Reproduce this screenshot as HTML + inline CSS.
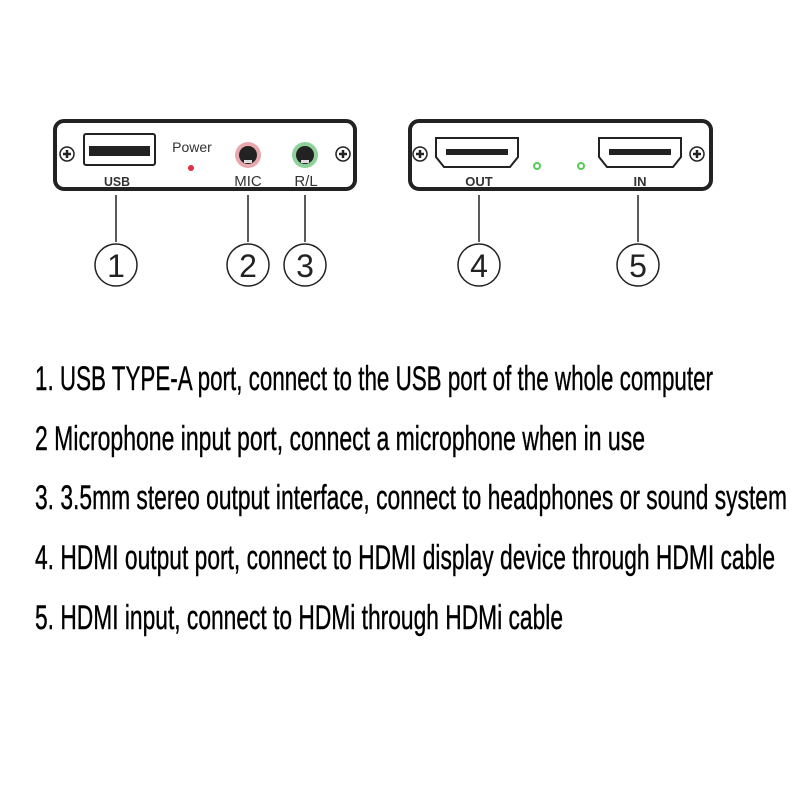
<!DOCTYPE html>
<html><head><meta charset="utf-8"><style>html,body{margin:0;padding:0;background:#fff;}svg{display:block}</style></head>
<body>
<svg width="800" height="800" viewBox="0 0 800 800" xmlns="http://www.w3.org/2000/svg">
<rect width="800" height="800" fill="#fff"/>
<!-- Left panel -->
<rect x="55" y="121" width="300" height="68" rx="9" fill="none" stroke="#222" stroke-width="4"/>
<g stroke="#222" stroke-width="1.5" fill="#fff">
<circle cx="67" cy="154" r="7"/><circle cx="343" cy="154" r="7"/>
<circle cx="420" cy="154" r="7"/><circle cx="697" cy="154" r="7"/>
</g>
<g stroke="#222" stroke-width="2.5">
<line x1="63" y1="154" x2="71" y2="154"/><line x1="67" y1="150" x2="67" y2="158"/>
<line x1="339" y1="154" x2="347" y2="154"/><line x1="343" y1="150" x2="343" y2="158"/>
<line x1="416" y1="154" x2="424" y2="154"/><line x1="420" y1="150" x2="420" y2="158"/>
<line x1="693" y1="154" x2="701" y2="154"/><line x1="697" y1="150" x2="697" y2="158"/>
</g>
<rect x="84" y="134" width="71" height="31" rx="2" fill="none" stroke="#222" stroke-width="2"/>
<rect x="89" y="146" width="61" height="10" fill="#222"/>
<text x="117" y="186" font-family="Liberation Sans, sans-serif" font-size="13" text-anchor="middle" fill="#333" font-weight="bold" textLength="26" lengthAdjust="spacingAndGlyphs">USB</text>
<text x="192" y="152" font-family="Liberation Sans, sans-serif" font-size="14" text-anchor="middle" fill="#333">Power</text>
<circle cx="191" cy="168" r="3" fill="#e03040"/>
<circle cx="248" cy="155" r="13" fill="#e8a8ae"/><circle cx="248" cy="155" r="9" fill="#222"/><rect x="244" y="160" width="8" height="3" fill="#ddd"/>
<circle cx="305" cy="155" r="13" fill="#8fd19b"/><circle cx="305" cy="155" r="9" fill="#222"/><rect x="301" y="160" width="8" height="3" fill="#ddd"/>
<text x="248" y="186" font-family="Liberation Sans, sans-serif" font-size="15" text-anchor="middle" fill="#333">MIC</text>
<text x="306" y="186" font-family="Liberation Sans, sans-serif" font-size="15" text-anchor="middle" fill="#333">R/L</text>
<!-- Right panel -->
<rect x="410" y="121" width="301" height="68" rx="9" fill="none" stroke="#222" stroke-width="4"/>
<path d="M436,138 H518 V157 L510,167 H444 L436,157 Z" fill="none" stroke="#222" stroke-width="2"/>
<rect x="446" y="149" width="62" height="6" fill="#222"/>
<path d="M599,138 H681 V157 L673,167 H607 L599,157 Z" fill="none" stroke="#222" stroke-width="2"/>
<rect x="609" y="149" width="62" height="6" fill="#222"/>
<circle cx="537" cy="166" r="3" fill="none" stroke="#5c5" stroke-width="2"/>
<circle cx="581" cy="166" r="3" fill="none" stroke="#5c5" stroke-width="2"/>
<text x="479" y="186" font-family="Liberation Sans, sans-serif" font-size="13" text-anchor="middle" fill="#333" font-weight="bold">OUT</text>
<text x="640" y="186" font-family="Liberation Sans, sans-serif" font-size="13" text-anchor="middle" fill="#333" font-weight="bold">IN</text>
<!-- Leader lines -->
<g stroke="#222" stroke-width="1.5">
<line x1="116" y1="195" x2="116" y2="242"/><line x1="248" y1="195" x2="248" y2="242"/><line x1="305" y1="195" x2="305" y2="242"/>
<line x1="479" y1="195" x2="479" y2="242"/><line x1="638" y1="195" x2="638" y2="242"/>
</g>
<g fill="none" stroke="#222" stroke-width="1.5">
<circle cx="116" cy="265" r="21"/><circle cx="248" cy="265" r="21"/><circle cx="305" cy="265" r="21"/>
<circle cx="479" cy="265" r="21"/><circle cx="638" cy="265" r="21"/>
</g>
<g font-family="Liberation Sans, sans-serif" font-size="32" text-anchor="middle" fill="#222">
<text x="116" y="277">1</text><text x="248" y="277">2</text><text x="305" y="277">3</text>
<text x="479" y="277">4</text><text x="638" y="277">5</text>
</g>
<!-- Descriptions -->
<g font-family="Liberation Sans, sans-serif" font-size="34" fill="#000" stroke="#000" stroke-width="0.4">
<text x="35" y="390" textLength="678" lengthAdjust="spacingAndGlyphs">1. USB TYPE-A port, connect to the USB port of the whole computer</text>
<text x="35" y="450" textLength="610" lengthAdjust="spacingAndGlyphs">2 Microphone input port, connect a microphone when in use</text>
<text x="35" y="509" textLength="752" lengthAdjust="spacingAndGlyphs">3. 3.5mm stereo output interface, connect to headphones or sound system</text>
<text x="35" y="569" textLength="740" lengthAdjust="spacingAndGlyphs">4. HDMI output port, connect to HDMI display device through HDMI cable</text>
<text x="35" y="629" textLength="528" lengthAdjust="spacingAndGlyphs">5. HDMI input, connect to HDMi through HDMi cable</text>
</g>
</svg>
</body></html>
